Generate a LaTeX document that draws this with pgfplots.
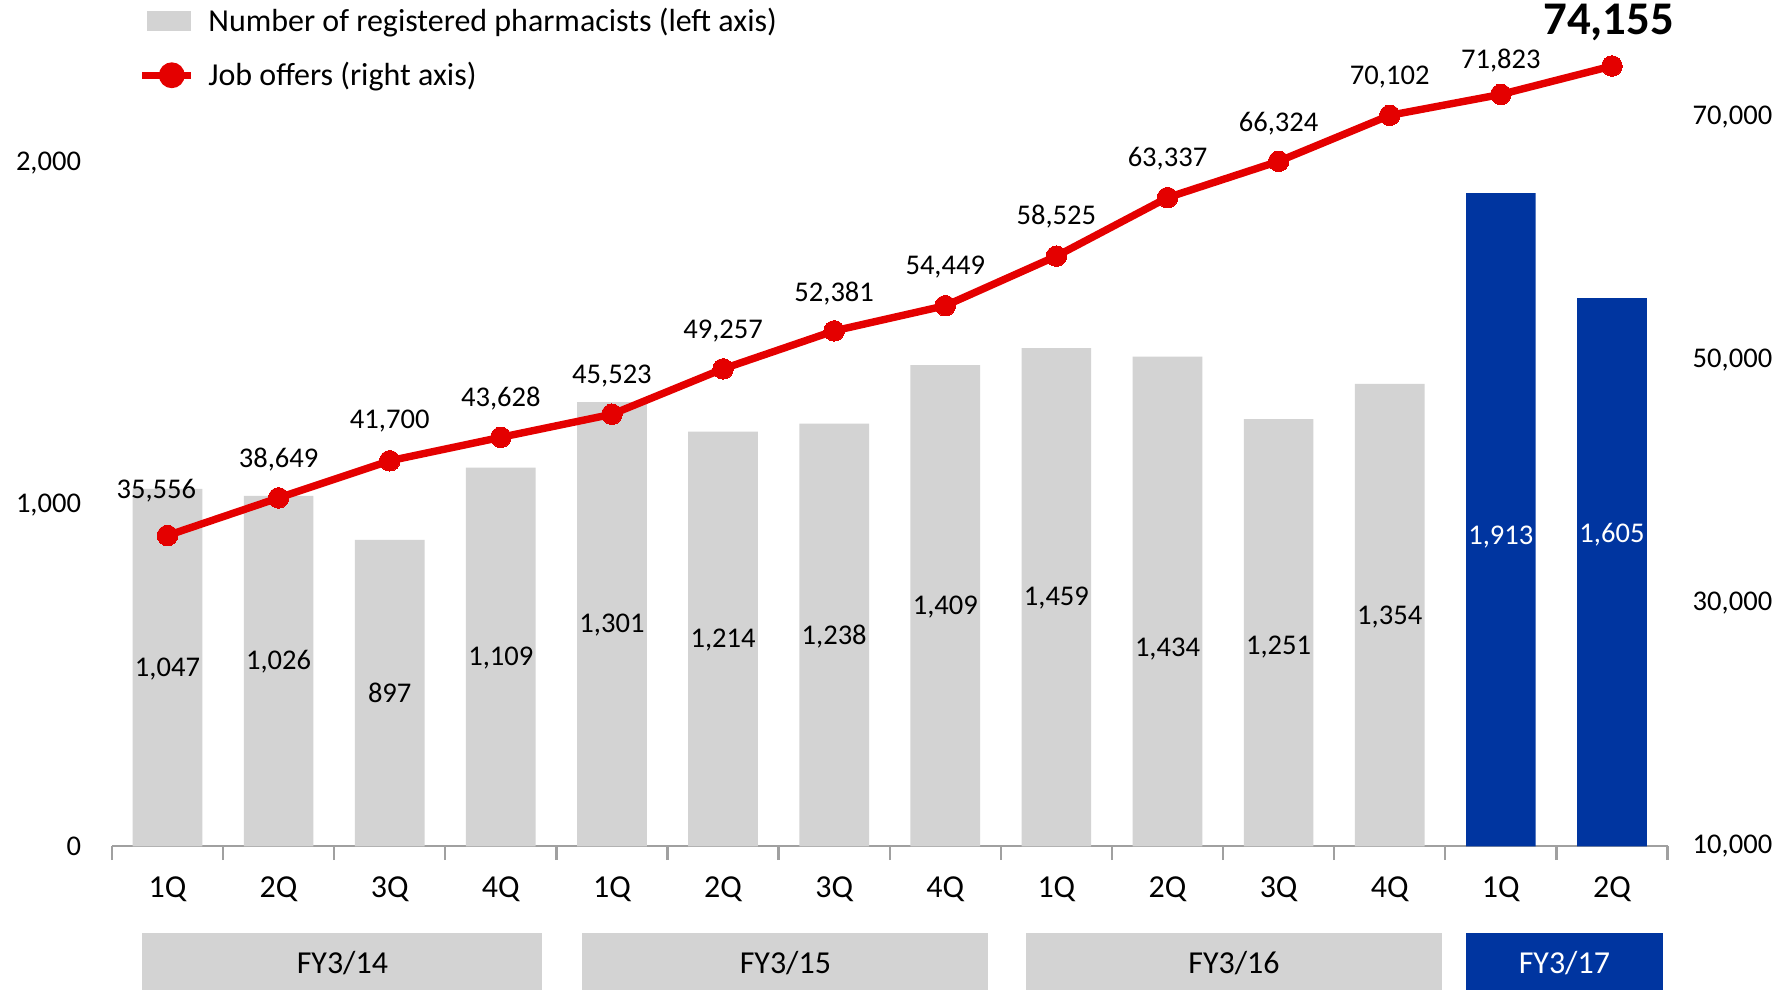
\documentclass[border=0pt]{standalone}
\usepackage{pgfplots}
\pgfplotsset{compat=1.18}
\usepackage{fontspec}
\setmainfont{Carlito}
\definecolor{barGray}{RGB}{211,211,211}
\definecolor{barBlue}{RGB}{0,53,160}
\definecolor{lineRed}{RGB}{228,0,0}
\definecolor{axGray}{RGB}{160,160,160}

\begin{document}
\begin{tikzpicture}
\useasboundingbox (0,0) rectangle (784.5pt,433pt);
\pgfplotsset{
  base/.style={scale only axis, width=681pt, height=358.8pt,
    at={(49pt,62.5pt)}, anchor=south west, xmin=-0.5, xmax=13.5, clip=false,
    /pgf/number format/assume math mode=true,
    /pgf/number format/1000 sep={,}},
}
% left axis: registered pharmacists
\begin{axis}[base, ymin=0, ymax=2400,
  axis x line*=bottom, axis y line*=left,
  y axis line style={draw=none},
  x axis line style={axGray, line width=1pt, -},
  ytick={0,1000,2000}, major tick length=0pt,
  yticklabel style={font=\fontsize{12.5}{15}\selectfont, xshift=-10pt},
  xtick={0,...,13},
  xticklabels={1Q,2Q,3Q,4Q,1Q,2Q,3Q,4Q,1Q,2Q,3Q,4Q,1Q,2Q},
  xticklabel style={font=\fontsize{14}{17}\selectfont, yshift=-10pt},
  extra x ticks={-0.5,0.5,...,13.5}, extra x tick labels={},
  extra x tick style={major tick length=6pt, tick align=outside,
    tick style={axGray, line width=1pt}},
]
\addplot[ybar, bar width=30.5pt, bar shift=0pt, fill=barGray, draw=none] table {
x y
0 1047
1 1026
2 897
3 1109
4 1301
5 1214
6 1238
7 1409
8 1459
9 1434
10 1251
11 1354
};
\addplot[ybar, bar width=30.5pt, bar shift=0pt, fill=barBlue, draw=none] table {
x y
12 1913
13 1605
};
% bar value labels
\addplot[draw=none, mark=none, nodes near coords, point meta=explicit symbolic,
  every node near coord/.style={anchor=center, font=\fontsize{12.5}{15}\selectfont}]
  table[meta=lab] {
x y lab
0 518 1,047
1 542 1,026
2 448 897
3 552 1,109
4 649 1,301
5 605 1,214
6 615 1,238
7 702 1,409
8 726 1,459
9 579 1,434
10 582 1,251
11 672 1,354
};
\addplot[draw=none, mark=none, nodes near coords, point meta=explicit symbolic,
  every node near coord/.style={anchor=center, white, font=\fontsize{12.5}{15}\selectfont}]
  table[meta=lab] {
x y lab
12 906 1,913
13 913 1,605
};
% fiscal year boxes
\fill[barGray] (axis cs:-0.226,-254) rectangle (axis cs:3.374,-520);
\fill[barGray] (axis cs:3.735,-254) rectangle (axis cs:7.387,-520);
\fill[barGray] (axis cs:7.726,-254) rectangle (axis cs:11.47,-520);
\fill[barBlue] (axis cs:11.687,-254) rectangle (axis cs:13.457,-520);
\node[font=\fontsize{14}{17}\selectfont] at (axis cs:1.574,-343) {FY3/14};
\node[font=\fontsize{14}{17}\selectfont] at (axis cs:5.561,-343) {FY3/15};
\node[font=\fontsize{14}{17}\selectfont] at (axis cs:9.598,-343) {FY3/16};
\node[font=\fontsize{14}{17}\selectfont, white] at (axis cs:12.572,-343) {FY3/17};
\end{axis}

% right axis: job offers
\begin{axis}[base, ymin=10000, ymax=77390,
  axis x line=none, axis y line*=right,
  y axis line style={draw=none},
  ytick={10000,30000,50000,70000}, major tick length=0pt,
  scaled y ticks=false,
  yticklabel style={font=\fontsize{12.5}{15}\selectfont, xshift=7.5pt},
  legend style={at={(0.0125,1.035)}, anchor=north west, draw=none, fill=none,
    font=\fontsize{14}{17}\selectfont, row sep=8pt},
  legend cell align=left,
]
\addlegendimage{legend image code/.code={\fill[barGray] (2.25pt,-4pt) rectangle (21.25pt,4pt);
  \path[draw=none, fill=none] (0pt,0pt) -- (27pt,0pt);}}
\addlegendentry{Number of registered pharmacists (left axis)}
\addplot[lineRed, line width=3.25pt, mark=*, mark size=4.5pt,
  mark options={fill=lineRed, draw=lineRed, line width=0pt},
  legend image code/.code={\draw[lineRed, line width=3pt] (0pt,0pt) -- (21.25pt,0pt);
    \fill[lineRed] (13pt,0pt) circle (4pt);
    \path[draw=none, fill=none] (0pt,0pt) -- (27pt,0pt);}] table {
x y
0 35556
1 38649
2 41700
3 43628
4 45523
5 49257
6 52381
7 54449
8 58525
9 63337
10 66324
11 70102
12 71823
13 74155
};
\addlegendentry{Job offers (right axis)}
% line value labels
\addplot[draw=none, mark=none, nodes near coords, point meta=explicit symbolic,
  every node near coord/.style={anchor=center, font=\fontsize{12.5}{15}\selectfont}]
  table[meta=lab] {
x y lab
-0.10 39203 35,556
1 41832 38,649
2 44931 41,700
3 46809 43,628
4 48687 45,523
5 52349 49,257
6 55448 52,381
7 57607 54,449
8 61739 58,525
9 66528 63,337
10 69439 66,324
11 73289 70,102
12 74603 71,823
};
\addplot[draw=none, mark=none, nodes near coords, point meta=explicit symbolic,
  every node near coord/.style={anchor=center, font=\fontsize{20.5}{24}\selectfont\bfseries}]
  table[meta=lab] {
x y lab
12.97 77702 74,155
};
\end{axis}
\end{tikzpicture}
\end{document}
